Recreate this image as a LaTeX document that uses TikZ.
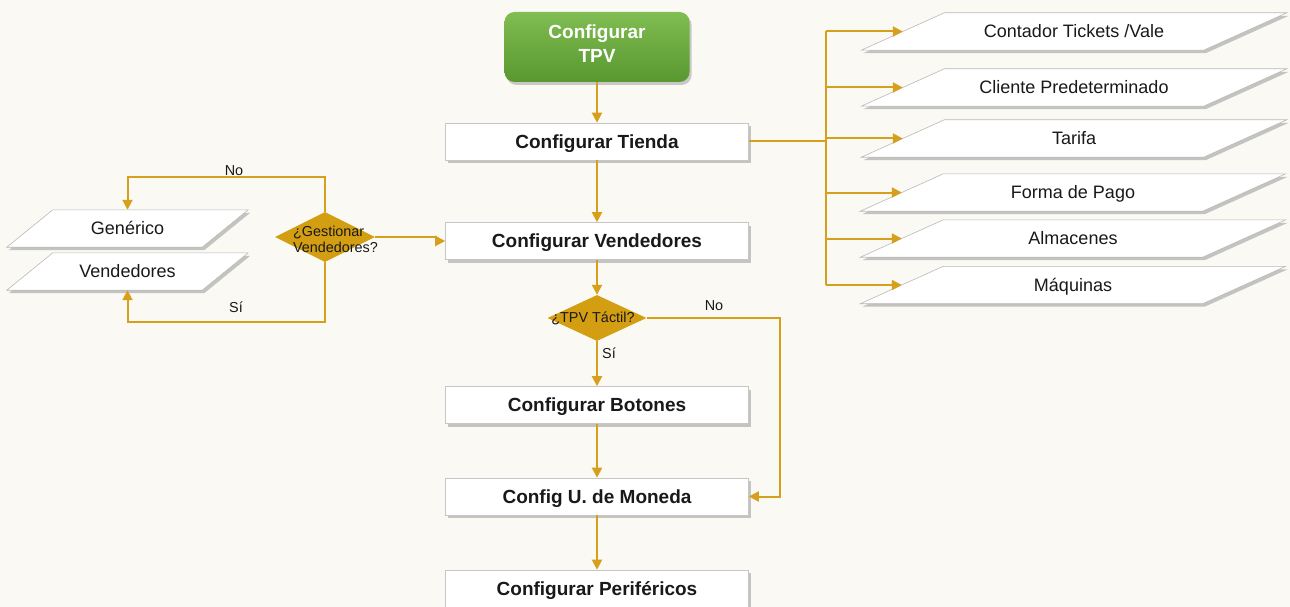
\documentclass[tikz,border=0pt]{standalone}
\usepackage{fontspec}
\setmainfont{Liberation Sans}
\usetikzlibrary{arrows.meta,shapes.geometric,shadows}
\definecolor{bgc}{RGB}{251,249,243}
\definecolor{gold}{RGB}{214,160,28}
\definecolor{golddia}{RGB}{212,158,18}
\definecolor{gtopc}{RGB}{128,189,82}
\definecolor{gbotc}{RGB}{88,152,48}
\definecolor{txt}{RGB}{25,25,25}
\pgfdeclarelayer{bg}
\pgfsetlayers{bg,main}
\tikzset{
  box/.style={draw=gray!45, line width=0.6pt, fill=white, minimum width=303pt, minimum height=37pt,
    inner sep=0pt, text=txt, font=\bfseries\fontsize{19}{20}\selectfont,
    text height=13.6pt, text depth=0pt,
    drop shadow={shadow xshift=2pt, shadow yshift=-3pt, fill=gray!80, opacity=0.55}},
  startbox/.style={rounded corners=10pt, top color=gtopc, bottom color=gbotc, draw=none,
    minimum width=185pt, minimum height=70pt, inner sep=0pt, align=center, text=white,
    font=\bfseries\fontsize{19}{24}\selectfont, text depth=6.6pt,
    drop shadow={shadow xshift=2pt, shadow yshift=-3pt, fill=gray!80, opacity=0.5}},
  dia/.style={diamond, fill=golddia, draw=none, inner sep=0pt},
  dtext/.style={text=txt, font=\fontsize{14.4}{16}\selectfont, inner sep=0pt},
  lbl/.style={text=txt, font=\fontsize{14.4}{16}\selectfont, inner sep=0pt},
  pnode/.style={minimum height=37pt, inner sep=0pt, text=txt, font=\fontsize{18}{19}\selectfont,
    text height=12.9pt, text depth=0pt},
  pbody/.style={fill=white, draw=gray!55, line width=0.6pt},
  pshadow/.style={fill=gray!75, opacity=0.6},
  conn/.style={draw=gold, line width=2pt},
  arr/.style={conn, -{Triangle[length=10pt,width=10pt]}}
}
\newcommand\pframe[2]{%
  \fill[pshadow] ([xshift=#2+2pt,yshift=-3pt]#1.north west) -- ([xshift=#2+2pt,yshift=-3pt]#1.north east)
     -- ([xshift=-#2+2pt,yshift=-3pt]#1.south east) -- ([xshift=-#2+2pt,yshift=-3pt]#1.south west) -- cycle;
  \filldraw[pbody] ([xshift=#2]#1.north west) -- ([xshift=#2]#1.north east)
     -- ([xshift=-#2]#1.south east) -- ([xshift=-#2]#1.south west) -- cycle;
}
\begin{document}
\begin{tikzpicture}[x=1pt,y=-1pt]
\begin{pgfonlayer}{bg}
\fill[bgc] (0,0) rectangle (1290,607);
\end{pgfonlayer}
\useasboundingbox (0,0) rectangle (1290,607);

% main column
\node[startbox] (start) at (597,47) {Configurar\\TPV};
\node[box] (ct) at (597,141.5) {Configurar Tienda};
\node[box] (cv) at (597,241) {Configurar Vendedores};
\node[dia, minimum width=99pt, minimum height=46pt,
      label={[dtext,xshift=-4pt]center:¿TPV Táctil?}] (tt) at (597,318) {};
\node[box] (cb) at (597,405) {Configurar Botones};
\node[box] (cm) at (597,496.5) {Config U. de Moneda};
\node[box] (cp) at (597,588.5) {Configurar Periféricos};

% left diamond and data
\node[dia, minimum width=100pt, minimum height=50pt,
      label={[dtext,align=left,xshift=10.5pt,yshift=-2pt]center:¿Gestionar\\Vendedores?}] (gd) at (325,237) {};
\node[pnode, minimum width=195pt] (gen) at (127.5,228.5) {Genérico};
\node[pnode, minimum width=195pt] (ven) at (127.5,271.5) {Vendedores};

% right data
\node[pnode, minimum width=342pt] (p1) at (1074,31.5) {Contador Tickets /Vale};
\node[pnode, minimum width=342pt] (p2) at (1074,87.5) {Cliente Predeterminado};
\node[pnode, minimum width=342pt] (p3) at (1074,138.5) {Tarifa};
\node[pnode, minimum width=342pt] (p4) at (1073,192.5) {Forma de Pago};
\node[pnode, minimum width=342pt] (p5) at (1073,238.5) {Almacenes};
\node[pnode, minimum width=342pt] (p6) at (1073,285) {Máquinas};

\begin{pgfonlayer}{bg}
\pframe{gen}{23pt}
\pframe{ven}{23pt}
\pframe{p1}{41.5pt}
\pframe{p2}{41.5pt}
\pframe{p3}{41.5pt}
\pframe{p4}{41.5pt}
\pframe{p5}{41.5pt}
\pframe{p6}{41.5pt}
\end{pgfonlayer}

% connectors main column
\draw[arr] (start) -- (ct);
\draw[arr] (ct) -- (cv);
\draw[arr] (cv) -- (tt.north);
\draw[arr] (tt.south) -- (cb);
\draw[arr] (cb) -- (cm);
\draw[arr] (cm) -- (cp);
\coordinate (noR) at (780,318);
\draw[arr] (tt.east) -- (noR) |- (cm.east);
\node[lbl] (ttno) at (714,306) {No};
\node[lbl] (ttsi) at (609,353) {Sí};

% right bus
\coordinate (bus) at (826,141.5);
\draw[conn] (ct.east) -- (bus);
\draw[conn] (bus |- p1.west) -- (bus |- p6.west);
\foreach \p in {p1,p2,p3,p4,p5,p6}
  \draw[arr] (bus |- \p.west) -- (\p.west);

% left branch
\coordinate (gtop) at (325,177);
\coordinate (gbot) at (325,322);
\draw[arr] (gd.north) -- (gtop) -| (gen.north);
\draw[arr] (gd.south) -- (gbot) -| (ven.south);
\draw[arr] (gd.east) -- ++(61,0) |- (cv.west);
\node[lbl] (gno) at (234,171) {No};
\node[lbl] (gsi) at (236,307) {Sí};
\end{tikzpicture}
\end{document}
